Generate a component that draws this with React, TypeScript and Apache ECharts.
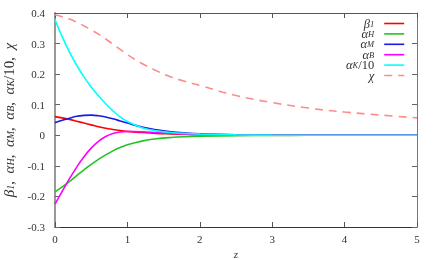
import React, { useEffect, useRef } from "react";
import * as echarts from "echarts";

const zValues = [0, 0.1, 0.2, 0.3, 0.4, 0.5, 0.6, 0.7, 0.8, 0.9, 1.0, 1.2, 1.4, 1.6, 1.8, 2.0, 2.5, 3.0, 3.5, 4.0, 4.5, 5.0];
const beta1 = [0.061, 0.057, 0.052, 0.046, 0.04, 0.034, 0.028, 0.023, 0.019, 0.0155, 0.0125, 0.009, 0.0062, 0.0045, 0.003, 0.002, 0.001, 0.0004, 0.0001, 0, 0, 0];
const alphaH = [-0.185, -0.169, -0.151, -0.132, -0.113, -0.095, -0.079, -0.064, -0.051, -0.04, -0.031, -0.019, -0.0115, -0.0072, -0.0046, -0.003, -0.001, -0.0004, -0.0001, 0, 0, 0];
const alphaM = [0.041, 0.049, 0.056, 0.062, 0.065, 0.066, 0.064, 0.06, 0.054, 0.047, 0.04, 0.027, 0.018, 0.0115, 0.0075, 0.0048, 0.0016, 0.0005, 0.0002, 0, 0, 0];
const alphaB = [-0.225, -0.183, -0.142, -0.104, -0.07, -0.042, -0.02, -0.004, 0.006, 0.011, 0.0128, 0.0118, 0.009, 0.0062, 0.0041, 0.0026, 0.001, 0.0003, 0.0001, 0, 0, 0];
const alphaK10 = [0.378, 0.322, 0.272, 0.229, 0.191, 0.158, 0.129, 0.103, 0.08, 0.06, 0.045, 0.025, 0.0145, 0.009, 0.0058, 0.0038, 0.0013, 0.0004, 0.0001, 0, 0, 0];
const chi = [0.394, 0.388, 0.38, 0.37, 0.358, 0.345, 0.331, 0.315, 0.298, 0.281, 0.264, 0.235, 0.211, 0.191, 0.176, 0.163, 0.13, 0.107, 0.089, 0.076, 0.066, 0.057];

const seriesNames = ["beta1", "alphaH", "alphaM", "alphaB", "alphaK", "chi"];
const seriesLabels: Record<string, string> = {
  beta1: "{i|β}{s|1}",
  alphaH: "{i|α}{s|H}",
  alphaM: "{i|α}{s|M}",
  alphaB: "{i|α}{s|B}",
  alphaK: "{i|α}{s|K}{n|/10}",
  chi: "{i|χ}",
};
const seriesColors = ["#ff0000", "#22c322", "#1a1ae6", "#ff00ff", "#00ffff", "#ff8a8a"];
const seriesData = [beta1, alphaH, alphaM, alphaB, alphaK10, chi];
const yTitle = "{i|β}{s|1}{n|,  }{i|α}{s|H}{n|,  }{i|α}{s|M}{n|,  }{i|α}{s|B}{n|,  }{i|α}{s|K}{n|/10,  }{i|χ}";

const FONT = "Liberation Serif";

export default function App() {
  const ref = useRef<HTMLDivElement>(null);
  useEffect(() => {
    const chart = echarts.init(ref.current!, null, { renderer: "svg" });
    const rich = {
      i: { fontFamily: FONT, fontStyle: "italic", fontSize: 12.5, color: "#333", lineHeight: 9, verticalAlign: "middle" },
      s: { fontFamily: FONT, fontStyle: "italic", fontSize: 8.5, color: "#333", lineHeight: 4, verticalAlign: "bottom" },
      n: { fontFamily: FONT, fontSize: 12.5, color: "#333", lineHeight: 9, verticalAlign: "middle" },
    };
    const richY = {
      i: { fontFamily: FONT, fontStyle: "italic", fontSize: 15, color: "#333", lineHeight: 12, verticalAlign: "middle" },
      s: { fontFamily: FONT, fontStyle: "italic", fontSize: 10, color: "#333", lineHeight: 5, verticalAlign: "bottom" },
      n: { fontFamily: FONT, fontSize: 15, color: "#333", lineHeight: 12, verticalAlign: "middle" },
    };
    const axisLabel = { fontFamily: FONT, fontSize: 11, color: "#333" };
    chart.setOption({
      animation: false,
      grid: { left: 55, right: 19, top: 13, bottom: 33, outerBoundsMode: "none", containLabel: false },
      legend: {
        orient: "vertical",
        right: 26,
        top: 12,
        align: "right",
        itemWidth: 20,
        itemHeight: 6,
        itemGap: -2.6,
        data: seriesNames.map((name, k) => ({
          name,
          lineStyle: { color: seriesColors[k], width: 1.6, type: name === "chi" ? [8, 6] : "solid" },
        })),
        formatter: (name: string) => seriesLabels[name],
        itemStyle: { opacity: 0 },
        textStyle: { fontSize: 9, lineHeight: 9, rich, padding: [0, 5, 0, 0] },
      },
      xAxis: [
        {
          type: "value",
          min: 0,
          max: 5,
          interval: 1,
          name: "z",
          nameLocation: "middle",
          nameGap: 18,
          nameTextStyle: { fontFamily: FONT, fontStyle: "italic", fontSize: 11, color: "#333" },
          axisLine: { onZero: false, lineStyle: { color: "#333", width: 1 } },
          axisTick: { inside: true, length: 5, lineStyle: { color: "#555" } },
          axisLabel: { ...axisLabel, margin: 6 },
          splitLine: { show: false },
        },
        {
          type: "value",
          position: "top",
          min: 0,
          max: 5,
          interval: 1,
          axisLine: { show: true, onZero: false, lineStyle: { color: "#555", width: 1 } },
          axisTick: { inside: true, length: 5, lineStyle: { color: "#555" } },
          axisLabel: { show: false },
          splitLine: { show: false },
        },
      ],
      yAxis: [
        {
          type: "value",
          min: -0.3,
          max: 0.4,
          interval: 0.1,
          name: yTitle,
          nameLocation: "middle",
          nameRotate: 90,
          nameGap: 38,
          nameTextStyle: { rich: richY },
          axisLine: { show: true, onZero: false, lineStyle: { color: "#999", width: 2 } },
          axisTick: { inside: true, length: 5, lineStyle: { color: "#666" } },
          axisLabel: { ...axisLabel, margin: 10, formatter: (v: number) => String(Math.round(v * 10) / 10) },
          splitLine: { show: false },
        },
        {
          type: "value",
          position: "right",
          min: -0.3,
          max: 0.4,
          interval: 0.1,
          axisLine: { show: true, onZero: false, lineStyle: { color: "#777", width: 1 } },
          axisTick: { inside: true, length: 5, lineStyle: { color: "#666" } },
          axisLabel: { show: false },
          splitLine: { show: false },
        },
      ],
      series: seriesNames.map((name, k) => ({
        name,
        type: "line",
        xAxisIndex: 0,
        yAxisIndex: 0,
        symbol: "none",
        smooth: 0.4,
        color: seriesColors[k],
        lineStyle: {
          color: seriesColors[k],
          width: 1.6,
          type: name === "chi" ? [8, 6] : "solid",
        },
        data: zValues.map((z, i) => [z, seriesData[k][i]]),
      })),
    });
    return () => chart.dispose();
  }, []);
  return <div ref={ref} style={{ position: "fixed", left: 0, top: 0, width: 436, height: 260 }} />;
}
